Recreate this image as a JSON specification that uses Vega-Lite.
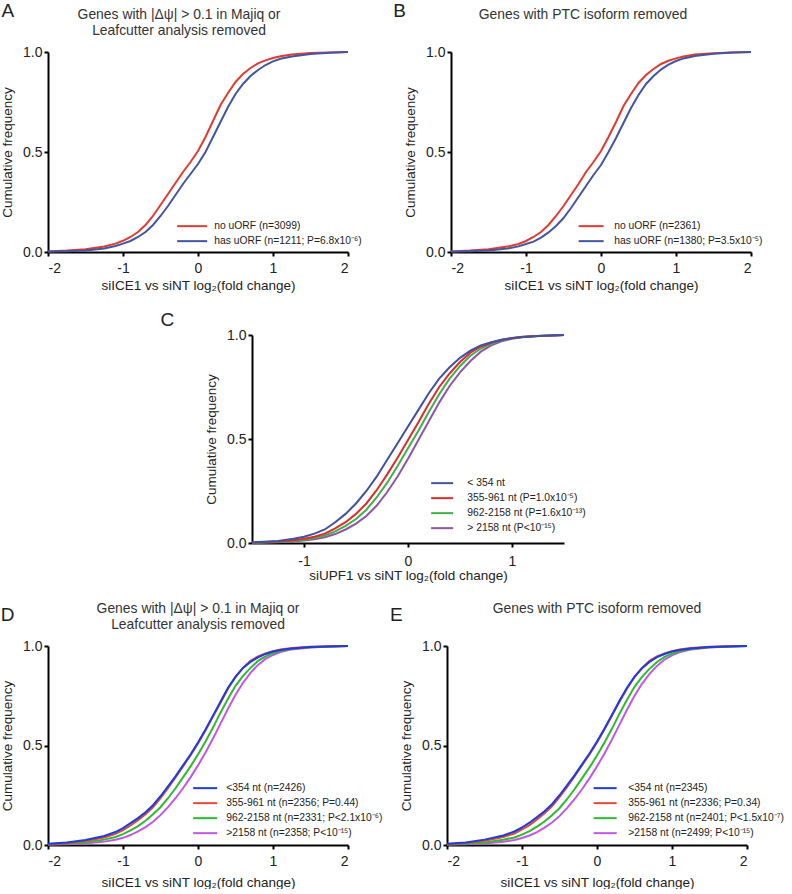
{
  "$schema": "https://vega.github.io/schema/vega-lite/v6.json",
  "background": "white",
  "padding": {"left": 0, "top": 2, "right": 0, "bottom": 0},
  "spacing": 20,
  "resolve": {"scale": {"x": "independent", "y": "independent", "color": "independent"}, "axis": {"x": "independent", "y": "independent"}, "legend": {"color": "independent"}},
  "datasets": {
    "A": [
      {"x":-2,"s1":0.003,"s2":0.002},{"x":-1.75,"s1":0.007,"s2":0.004},{"x":-1.5,"s1":0.014,"s2":0.008},{"x":-1.25,"s1":0.028,"s2":0.018},
      {"x":-1.1,"s1":0.042,"s2":0.03},{"x":-1,"s1":0.056,"s2":0.042},{"x":-0.9,"s1":0.075,"s2":0.055},{"x":-0.8,"s1":0.1,"s2":0.075},
      {"x":-0.7,"s1":0.135,"s2":0.1},{"x":-0.6,"s1":0.18,"s2":0.135},{"x":-0.5,"s1":0.235,"s2":0.18},{"x":-0.4,"s1":0.29,"s2":0.23},
      {"x":-0.3,"s1":0.345,"s2":0.285},{"x":-0.2,"s1":0.4,"s2":0.34},{"x":-0.1,"s1":0.45,"s2":0.39},{"x":0,"s1":0.505,"s2":0.44},
      {"x":0.1,"s1":0.575,"s2":0.5},{"x":0.2,"s1":0.655,"s2":0.575},{"x":0.3,"s1":0.735,"s2":0.65},{"x":0.4,"s1":0.795,"s2":0.725},
      {"x":0.5,"s1":0.85,"s2":0.79},{"x":0.6,"s1":0.89,"s2":0.84},{"x":0.7,"s1":0.92,"s2":0.88},{"x":0.8,"s1":0.943,"s2":0.91},
      {"x":0.9,"s1":0.958,"s2":0.935},{"x":1,"s1":0.97,"s2":0.953},{"x":1.1,"s1":0.979,"s2":0.966},{"x":1.25,"s1":0.988,"s2":0.978},
      {"x":1.5,"s1":0.995,"s2":0.99},{"x":1.75,"s1":0.998,"s2":0.996},{"x":2,"s1":1,"s2":1}
    ],
    "B": [
      {"x":-2,"s1":0.003,"s2":0.002},{"x":-1.75,"s1":0.007,"s2":0.004},{"x":-1.5,"s1":0.014,"s2":0.008},{"x":-1.25,"s1":0.027,"s2":0.017},
      {"x":-1.1,"s1":0.04,"s2":0.028},{"x":-1,"s1":0.055,"s2":0.04},{"x":-0.9,"s1":0.075,"s2":0.052},{"x":-0.8,"s1":0.1,"s2":0.072},
      {"x":-0.7,"s1":0.135,"s2":0.098},{"x":-0.6,"s1":0.18,"s2":0.13},{"x":-0.5,"s1":0.23,"s2":0.17},{"x":-0.4,"s1":0.285,"s2":0.22},
      {"x":-0.3,"s1":0.34,"s2":0.275},{"x":-0.2,"s1":0.4,"s2":0.33},{"x":-0.1,"s1":0.45,"s2":0.385},{"x":0,"s1":0.505,"s2":0.435},
      {"x":0.1,"s1":0.575,"s2":0.5},{"x":0.2,"s1":0.65,"s2":0.57},{"x":0.3,"s1":0.73,"s2":0.645},{"x":0.4,"s1":0.79,"s2":0.72},
      {"x":0.5,"s1":0.845,"s2":0.785},{"x":0.6,"s1":0.885,"s2":0.84},{"x":0.7,"s1":0.915,"s2":0.88},{"x":0.8,"s1":0.94,"s2":0.912},
      {"x":0.9,"s1":0.956,"s2":0.937},{"x":1,"s1":0.968,"s2":0.955},{"x":1.1,"s1":0.977,"s2":0.968},{"x":1.25,"s1":0.987,"s2":0.98},
      {"x":1.5,"s1":0.994,"s2":0.991},{"x":1.75,"s1":0.998,"s2":0.997},{"x":2,"s1":1,"s2":1}
    ],
    "C": [
      {"x":-1.5,"s1":0.003,"s2":0.002,"s3":0.001,"s4":0.001},{"x":-1.25,"s1":0.01,"s2":0.007,"s3":0.005,"s4":0.004},
      {"x":-1.1,"s1":0.02,"s2":0.013,"s3":0.01,"s4":0.008},{"x":-1,"s1":0.03,"s2":0.02,"s3":0.016,"s4":0.012},
      {"x":-0.9,"s1":0.045,"s2":0.03,"s3":0.024,"s4":0.018},{"x":-0.8,"s1":0.065,"s2":0.045,"s3":0.036,"s4":0.028},
      {"x":-0.7,"s1":0.1,"s2":0.07,"s3":0.056,"s4":0.043},{"x":-0.6,"s1":0.14,"s2":0.1,"s3":0.082,"s4":0.065},
      {"x":-0.5,"s1":0.19,"s2":0.14,"s3":0.115,"s4":0.093},{"x":-0.4,"s1":0.25,"s2":0.19,"s3":0.16,"s4":0.13},
      {"x":-0.3,"s1":0.32,"s2":0.255,"s3":0.22,"s4":0.18},{"x":-0.2,"s1":0.4,"s2":0.33,"s3":0.29,"s4":0.245},
      {"x":-0.1,"s1":0.48,"s2":0.41,"s3":0.37,"s4":0.32},{"x":0,"s1":0.56,"s2":0.495,"s3":0.455,"s4":0.405},
      {"x":0.1,"s1":0.64,"s2":0.58,"s3":0.54,"s4":0.495},{"x":0.2,"s1":0.72,"s2":0.67,"s3":0.63,"s4":0.585},
      {"x":0.3,"s1":0.79,"s2":0.75,"s3":0.715,"s4":0.675},{"x":0.4,"s1":0.845,"s2":0.815,"s3":0.79,"s4":0.755},
      {"x":0.5,"s1":0.89,"s2":0.87,"s3":0.85,"s4":0.82},{"x":0.6,"s1":0.925,"s2":0.915,"s3":0.9,"s4":0.875},
      {"x":0.7,"s1":0.95,"s2":0.945,"s3":0.935,"s4":0.92},{"x":0.8,"s1":0.965,"s2":0.963,"s3":0.958,"s4":0.95},
      {"x":0.9,"s1":0.977,"s2":0.977,"s3":0.974,"s4":0.97},{"x":1,"s1":0.985,"s2":0.986,"s3":0.984,"s4":0.982},
      {"x":1.1,"s1":0.99,"s2":0.991,"s3":0.99,"s4":0.989},{"x":1.25,"s1":0.995,"s2":0.995,"s3":0.995,"s4":0.995},
      {"x":1.5,"s1":1,"s2":1,"s3":1,"s4":1}
    ],
    "D": [
      {"x":-2,"s1":0.006,"s2":0.004,"s3":0.003,"s4":0.002},{"x":-1.75,"s1":0.012,"s2":0.009,"s3":0.006,"s4":0.004},
      {"x":-1.5,"s1":0.025,"s2":0.02,"s3":0.013,"s4":0.008},{"x":-1.25,"s1":0.045,"s2":0.038,"s3":0.027,"s4":0.017},
      {"x":-1.1,"s1":0.065,"s2":0.056,"s3":0.04,"s4":0.026},{"x":-1,"s1":0.085,"s2":0.075,"s3":0.055,"s4":0.036},
      {"x":-0.9,"s1":0.11,"s2":0.098,"s3":0.073,"s4":0.05},{"x":-0.8,"s1":0.135,"s2":0.125,"s3":0.095,"s4":0.068},
      {"x":-0.7,"s1":0.165,"s2":0.155,"s3":0.122,"s4":0.09},{"x":-0.6,"s1":0.2,"s2":0.19,"s3":0.155,"s4":0.117},
      {"x":-0.5,"s1":0.245,"s2":0.235,"s3":0.19,"s4":0.15},{"x":-0.4,"s1":0.295,"s2":0.285,"s3":0.235,"s4":0.19},
      {"x":-0.3,"s1":0.345,"s2":0.34,"s3":0.285,"s4":0.235},{"x":-0.2,"s1":0.4,"s2":0.395,"s3":0.34,"s4":0.285},
      {"x":-0.1,"s1":0.455,"s2":0.45,"s3":0.395,"s4":0.34},{"x":0,"s1":0.515,"s2":0.51,"s3":0.455,"s4":0.4},
      {"x":0.1,"s1":0.58,"s2":0.575,"s3":0.52,"s4":0.465},{"x":0.2,"s1":0.65,"s2":0.645,"s3":0.59,"s4":0.535},
      {"x":0.3,"s1":0.72,"s2":0.715,"s3":0.665,"s4":0.61},{"x":0.4,"s1":0.79,"s2":0.785,"s3":0.735,"s4":0.685},
      {"x":0.5,"s1":0.845,"s2":0.845,"s3":0.8,"s4":0.755},{"x":0.6,"s1":0.89,"s2":0.89,"s3":0.85,"s4":0.815},
      {"x":0.7,"s1":0.92,"s2":0.925,"s3":0.89,"s4":0.865},{"x":0.8,"s1":0.943,"s2":0.948,"s3":0.925,"s4":0.905},
      {"x":0.9,"s1":0.96,"s2":0.963,"s3":0.948,"s4":0.935},{"x":1,"s1":0.972,"s2":0.974,"s3":0.964,"s4":0.955},
      {"x":1.1,"s1":0.98,"s2":0.982,"s3":0.975,"s4":0.97},{"x":1.25,"s1":0.988,"s2":0.99,"s3":0.986,"s4":0.983},
      {"x":1.5,"s1":0.995,"s2":0.996,"s3":0.994,"s4":0.993},{"x":1.75,"s1":0.998,"s2":0.999,"s3":0.998,"s4":0.998},
      {"x":2,"s1":1,"s2":1,"s3":1,"s4":1}
    ],
    "E": [
      {"x":-2,"s1":0.006,"s2":0.004,"s3":0.003,"s4":0.002},{"x":-1.75,"s1":0.013,"s2":0.01,"s3":0.006,"s4":0.004},
      {"x":-1.5,"s1":0.027,"s2":0.021,"s3":0.013,"s4":0.008},{"x":-1.25,"s1":0.048,"s2":0.04,"s3":0.026,"s4":0.016},
      {"x":-1.1,"s1":0.068,"s2":0.058,"s3":0.038,"s4":0.025},{"x":-1,"s1":0.088,"s2":0.078,"s3":0.052,"s4":0.035},
      {"x":-0.9,"s1":0.112,"s2":0.1,"s3":0.07,"s4":0.048},{"x":-0.8,"s1":0.14,"s2":0.128,"s3":0.092,"s4":0.065},
      {"x":-0.7,"s1":0.17,"s2":0.16,"s3":0.118,"s4":0.087},{"x":-0.6,"s1":0.205,"s2":0.195,"s3":0.15,"s4":0.113},
      {"x":-0.5,"s1":0.25,"s2":0.24,"s3":0.185,"s4":0.145},{"x":-0.4,"s1":0.3,"s2":0.29,"s3":0.23,"s4":0.185},
      {"x":-0.3,"s1":0.35,"s2":0.345,"s3":0.28,"s4":0.23},{"x":-0.2,"s1":0.405,"s2":0.4,"s3":0.335,"s4":0.28},
      {"x":-0.1,"s1":0.46,"s2":0.455,"s3":0.39,"s4":0.335},{"x":0,"s1":0.52,"s2":0.515,"s3":0.45,"s4":0.395},
      {"x":0.1,"s1":0.585,"s2":0.58,"s3":0.515,"s4":0.46},{"x":0.2,"s1":0.655,"s2":0.65,"s3":0.585,"s4":0.53},
      {"x":0.3,"s1":0.725,"s2":0.72,"s3":0.66,"s4":0.605},{"x":0.4,"s1":0.79,"s2":0.785,"s3":0.73,"s4":0.68},
      {"x":0.5,"s1":0.845,"s2":0.845,"s3":0.795,"s4":0.75},{"x":0.6,"s1":0.888,"s2":0.89,"s3":0.845,"s4":0.81},
      {"x":0.7,"s1":0.92,"s2":0.925,"s3":0.885,"s4":0.86},{"x":0.8,"s1":0.944,"s2":0.948,"s3":0.92,"s4":0.9},
      {"x":0.9,"s1":0.96,"s2":0.963,"s3":0.945,"s4":0.932},{"x":1,"s1":0.972,"s2":0.974,"s3":0.962,"s4":0.953},
      {"x":1.1,"s1":0.98,"s2":0.982,"s3":0.974,"s4":0.968},{"x":1.25,"s1":0.988,"s2":0.99,"s3":0.985,"s4":0.982},
      {"x":1.5,"s1":0.995,"s2":0.996,"s3":0.994,"s4":0.993},{"x":1.75,"s1":0.998,"s2":0.999,"s3":0.998,"s4":0.998},
      {"x":2,"s1":1,"s2":1,"s3":1,"s4":1}
    ]
  },
  "vconcat": [
    {
      "spacing": 19,
      "resolve": {"scale": {"x": "independent", "y": "independent", "color": "independent"}, "axis": {"x": "independent", "y": "independent"}, "legend": {"color": "independent"}},
      "vconcat": [
        {
          "spacing": 31,
          "resolve": {"scale": {"x": "independent", "y": "independent", "color": "independent"}, "axis": {"x": "independent", "y": "independent"}, "legend": {"color": "independent"}},
          "hconcat": [
            {
              "width": 300, "height": 200,
              "title": {"text": ["Genes with |Δψ| > 0.1 in Majiq or", "Leafcutter analysis removed"], "offset": -36, "dx": -19},
              "layer": [
                {
                  "data": {"name": "A"},
                  "transform": [{"fold": ["s1", "s2"], "as": ["series", "y"]}],
                  "mark": {"type": "line", "strokeWidth": 2},
                  "encoding": {
                    "x": {"field": "x", "type": "quantitative", "scale": {"domain": [-2, 2]}, "axis": {"values": [-2, -1, 0, 1, 2], "labelExpr": "toString(datum.value)", "title": "siICE1 vs siNT log₂(fold change)"}},
                    "y": {"field": "y", "type": "quantitative", "scale": {"domain": [0, 1]}, "axis": {"values": [0, 0.5, 1], "format": ".1f", "title": "Cumulative frequency"}},
                    "color": {"field": "series", "type": "nominal", "scale": {"domain": ["s1", "s2"], "range": ["#e23a2f", "#4155a5"]},
                      "legend": {"orient": "none", "legendX": 139, "legendY": 169, "symbolType": "M-3.75,0H3.75", "labelOffset": 17,
                        "labelExpr": "datum.value == 's1' ? 'no uORF (n=3099)' : 'has uORF (n=1211; P=6.8x10⁻⁶)'"}}
                  }
                },
                {
                  "data": {"values": [{"t": "A"}]},
                  "mark": {"type": "text", "fontSize": 19, "align": "left", "baseline": "top", "color": "#222"},
                  "encoding": {"text": {"field": "t"}, "x": {"datum": -2.62}, "y": {"datum": 1.25}}
                }
              ]
            },
            {
              "width": 300, "height": 200,
              "title": {"text": ["Genes with PTC isoform removed", " "], "offset": -36, "dx": -18},
              "layer": [
                {
                  "data": {"name": "B"},
                  "transform": [{"fold": ["s1", "s2"], "as": ["series", "y"]}],
                  "mark": {"type": "line", "strokeWidth": 2},
                  "encoding": {
                    "x": {"field": "x", "type": "quantitative", "scale": {"domain": [-2, 2]}, "axis": {"values": [-2, -1, 0, 1, 2], "labelExpr": "toString(datum.value)", "title": "siICE1 vs siNT log₂(fold change)"}},
                    "y": {"field": "y", "type": "quantitative", "scale": {"domain": [0, 1]}, "axis": {"values": [0, 0.5, 1], "format": ".1f", "title": "Cumulative frequency"}},
                    "color": {"field": "series", "type": "nominal", "scale": {"domain": ["s1", "s2"], "range": ["#e23a2f", "#4155a5"]},
                      "legend": {"orient": "none", "legendX": 135, "legendY": 169, "symbolType": "M-3.125,0H3.125", "labelOffset": 18,
                        "labelExpr": "datum.value == 's1' ? 'no uORF (n=2361)' : 'has uORF (n=1380; P=3.5x10⁻⁵)'"}}
                  }
                },
                {
                  "data": {"values": [{"t": "B"}]},
                  "mark": {"type": "text", "fontSize": 19, "align": "left", "baseline": "top", "color": "#222"},
                  "encoding": {"text": {"field": "t"}, "x": {"datum": -2.77}, "y": {"datum": 1.25}}
                }
              ]
            }
          ]
        },
        {
          "spacing": 0,
          "resolve": {"scale": {"x": "independent", "y": "independent", "color": "independent"}, "axis": {"x": "independent", "y": "independent"}, "legend": {"color": "independent"}},
          "hconcat": [
            {"width": 112, "height": 10, "data": {"values": []}, "mark": "point", "encoding": {}},
            {
              "width": 312, "height": 208,
              "title": {"text": "C", "anchor": "start", "frame": "bounds", "fontSize": 19, "color": "#222", "dx": -44, "offset": -2},
              "data": {"name": "C"},
              "transform": [{"fold": ["s4", "s3", "s2", "s1"], "as": ["series", "y"]}],
              "mark": {"type": "line", "strokeWidth": 2},
              "encoding": {
                "x": {"field": "x", "type": "quantitative", "scale": {"domain": [-1.5, 1.5]}, "axis": {"values": [-1, 0, 1], "labelExpr": "toString(datum.value)", "title": "siUPF1 vs siNT log₂(fold change)", "labelPadding": 7, "titlePadding": 0}},
                "y": {"field": "y", "type": "quantitative", "scale": {"domain": [0, 1]}, "axis": {"values": [0, 0.5, 1], "format": ".1f", "title": "Cumulative frequency"}},
                "color": {"field": "series", "type": "nominal", "scale": {"domain": ["s1", "s2", "s3", "s4"], "range": ["#3f51a5", "#e32a2a", "#3cb14a", "#8e55a6"]},
                  "legend": {"orient": "none", "legendX": 185, "legendY": 143, "symbolType": "M-2.75,0H2.75", "labelOffset": 20,
                    "labelExpr": "datum.value == 's1' ? '< 354 nt' : datum.value == 's2' ? '355-961 nt (P=1.0x10⁻⁵)' : datum.value == 's3' ? '962-2158 nt (P=1.6x10⁻¹³)' : '> 2158 nt (P<10⁻¹⁵)'"}}
              }
            }
          ]
        }
      ]
    },
    {
      "spacing": 7,
      "resolve": {"scale": {"x": "independent", "y": "independent", "color": "independent"}, "axis": {"x": "independent", "y": "independent"}, "legend": {"color": "independent"}},
      "hconcat": [
        {
          "width": 300, "height": 199,
          "title": {"text": ["Genes with |Δψ| > 0.1 in Majiq or", "Leafcutter analysis removed"], "offset": -25.5},
          "layer": [
            {
              "data": {"name": "D"},
              "transform": [{"fold": ["s4", "s3", "s2", "s1"], "as": ["series", "y"]}],
              "mark": {"type": "line", "strokeWidth": 2},
              "encoding": {
                "x": {"field": "x", "type": "quantitative", "scale": {"domain": [-2, 2]}, "axis": {"values": [-2, -1, 0, 1, 2], "labelExpr": "toString(datum.value)", "title": "siICE1 vs siNT log₂(fold change)", "titlePadding": 7}},
                "y": {"field": "y", "type": "quantitative", "scale": {"domain": [0, 1]}, "axis": {"values": [0, 0.5, 1], "format": ".1f", "title": "Cumulative frequency"}},
                "color": {"field": "series", "type": "nominal", "scale": {"domain": ["s1", "s2", "s3", "s4"], "range": ["#1c3be0", "#e9472f", "#2bbb2b", "#c356ea"]},
                  "legend": {"orient": "none", "legendX": 152, "legendY": 137, "symbolType": "M-3,0H3", "labelOffset": 16,
                    "labelExpr": "datum.value == 's1' ? '<354 nt (n=2426)' : datum.value == 's2' ? '355-961 nt (n=2356; P=0.44)' : datum.value == 's3' ? '962-2158 nt (n=2331; P<2.1x10⁻⁶)' : '>2158 nt (n=2358; P<10⁻¹⁵)'"}}
              }
            },
            {
              "data": {"values": [{"t": "D"}]},
              "mark": {"type": "text", "fontSize": 19, "align": "left", "baseline": "top", "color": "#222"},
              "encoding": {"text": {"field": "t"}, "x": {"datum": -2.63}, "y": {"datum": 1.1985}}
            }
          ]
        },
        {
          "width": 300, "height": 199,
          "title": {"text": ["Genes with PTC isoform removed", " "], "offset": -25.5},
          "layer": [
            {
              "data": {"name": "E"},
              "transform": [{"fold": ["s4", "s3", "s2", "s1"], "as": ["series", "y"]}],
              "mark": {"type": "line", "strokeWidth": 2},
              "encoding": {
                "x": {"field": "x", "type": "quantitative", "scale": {"domain": [-2, 2]}, "axis": {"values": [-2, -1, 0, 1, 2], "labelExpr": "toString(datum.value)", "title": "siICE1 vs siNT log₂(fold change)", "titlePadding": 7}},
                "y": {"field": "y", "type": "quantitative", "scale": {"domain": [0, 1]}, "axis": {"values": [0, 0.5, 1], "format": ".1f", "title": "Cumulative frequency"}},
                "color": {"field": "series", "type": "nominal", "scale": {"domain": ["s1", "s2", "s3", "s4"], "range": ["#1c3be0", "#e9472f", "#2bbb2b", "#c356ea"]},
                  "legend": {"orient": "none", "legendX": 153, "legendY": 137, "symbolType": "M-2.875,0H2.875", "labelOffset": 18,
                    "labelExpr": "datum.value == 's1' ? '<354 nt (n=2345)' : datum.value == 's2' ? '355-961 nt (n=2336; P=0.34)' : datum.value == 's3' ? '962-2158 nt (n=2401; P<1.5x10⁻⁷)' : '>2158 nt (n=2499; P<10⁻¹⁵)'"}}
              }
            },
            {
              "data": {"values": [{"t": "E"}]},
              "mark": {"type": "text", "fontSize": 19, "align": "left", "baseline": "top", "color": "#222"},
              "encoding": {"text": {"field": "t"}, "x": {"datum": -2.76}, "y": {"datum": 1.1985}}
            }
          ]
        }
      ]
    }
  ],
  "config": {
    "font": "Liberation Sans",
    "view": {"stroke": null},
    "axis": {
      "grid": false, "domainColor": "#000", "domainWidth": 2, "tickColor": "#000", "tickWidth": 2, "tickSize": 4,
      "labelFont": "Liberation Sans", "labelFontSize": 14, "labelColor": "#222",
      "titleFont": "Liberation Sans", "titleFontSize": 13.5, "titleFontWeight": "normal", "titleColor": "#222"
    },
    "axisX": {"labelPadding": 5, "titlePadding": 3},
    "axisY": {"labelPadding": 2, "titlePadding": 8},
    "title": {"font": "Liberation Sans", "fontSize": 13.9, "fontWeight": "normal", "color": "#333", "anchor": "middle", "lineHeight": 16},
    "legend": {
      "title": null, "symbolSize": 64, "symbolStrokeWidth": 2, "labelFont": "Liberation Sans", "labelFontSize": 10.3,
      "labelColor": "#222", "labelLimit": 300, "padding": 0, "rowPadding": 4
    }
  }
}
